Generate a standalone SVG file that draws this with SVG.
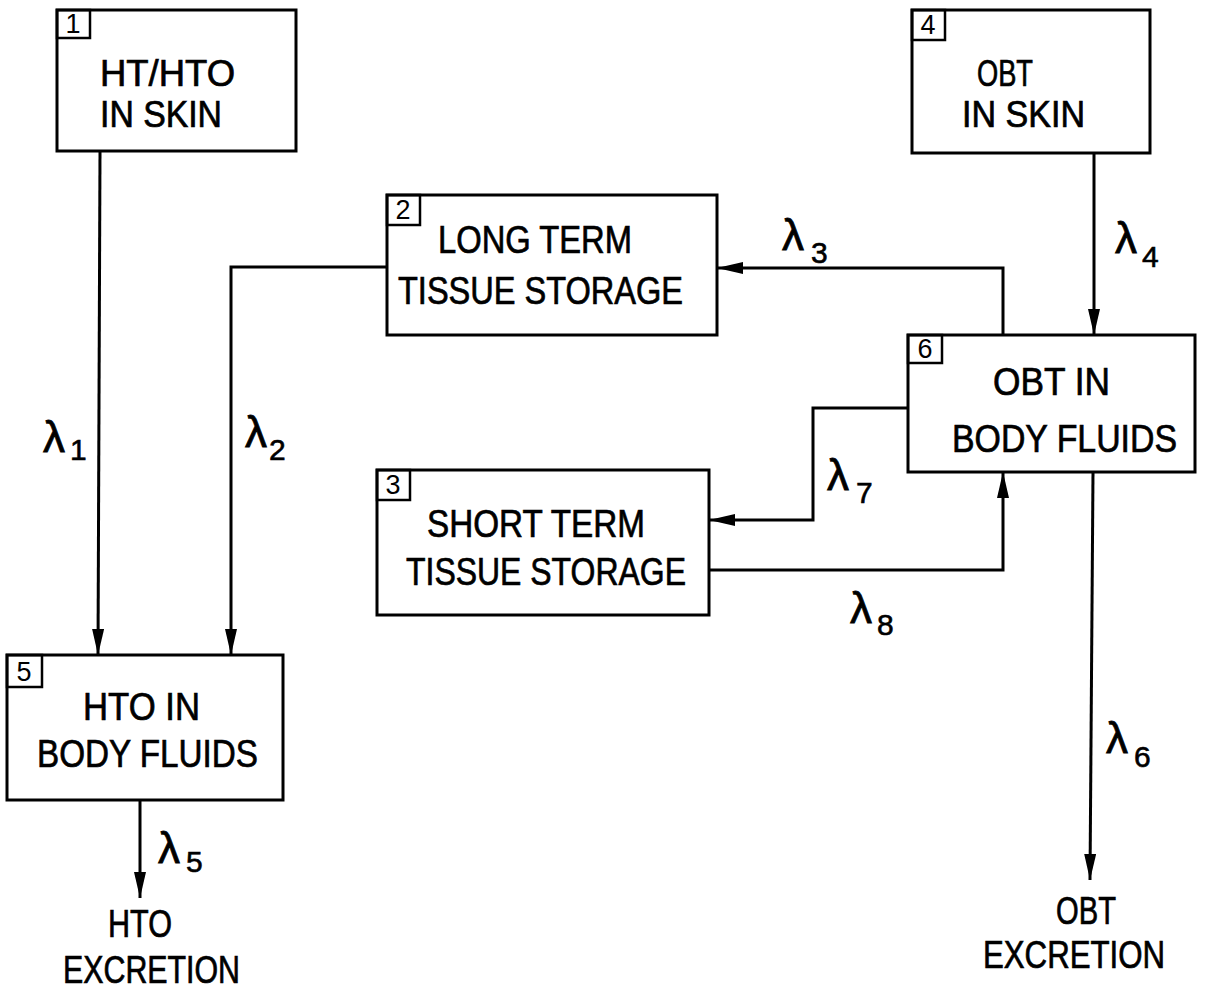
<svg xmlns="http://www.w3.org/2000/svg" width="1207" height="989" viewBox="0 0 1207 989">
<style>
.box{fill:#fff;stroke:#000;stroke-width:3}
.nb{fill:none;stroke:#000;stroke-width:2.5}
.t{font-family:"Liberation Sans",Arial,sans-serif;font-size:38px;fill:#000;stroke:#000;stroke-width:0.7}
.ts{font-size:36px}
.n{font-family:"Liberation Sans",Arial,sans-serif;font-size:27px;fill:#000;text-anchor:middle}
.l{font-family:"Liberation Sans",Arial,sans-serif;font-size:44px;fill:#000;stroke:#000;stroke-width:0.8}
.s{font-family:"Liberation Sans",Arial,sans-serif;font-size:30px;fill:#000;stroke:#000;stroke-width:0.6}
.c{fill:none;stroke:#000;stroke-width:3;marker-end:url(#ah)}
</style>
<defs>
<marker id="ah" markerUnits="userSpaceOnUse" markerWidth="28" markerHeight="12" refX="26" refY="6" orient="auto">
<path d="M0,0 L26,6 L0,12 Z" fill="#000"/>
</marker>
</defs>
<rect width="1207" height="989" fill="#fff"/>
<g id="connectors">
<path class="c" d="M100,152 L98,655"/>
<path class="c" d="M387,267 H231 V655"/>
<path class="c" d="M1003,335 V268 H717"/>
<path class="c" d="M1094,153 V335"/>
<path class="c" d="M908,408 H813 V520 H709"/>
<path class="c" d="M709,570 H1003 V472"/>
<path class="c" d="M1093,472 L1090,880"/>
<path class="c" d="M140,800 V898"/>
<text class="l" x="43" y="452">λ</text><text class="s" x="70" y="460">1</text>
<text class="l" x="245" y="447">λ</text><text class="s" x="269" y="460">2</text>
<text class="l" x="782" y="250">λ</text><text class="s" x="811" y="263">3</text>
<text class="l" x="1115" y="253">λ</text><text class="s" x="1142" y="267">4</text>
<text class="l" x="158" y="863">λ</text><text class="s" x="186" y="872">5</text>
<text class="l" x="1106" y="753">λ</text><text class="s" x="1134" y="767">6</text>
<text class="l" x="827" y="490">λ</text><text class="s" x="856" y="503">7</text>
<text class="l" x="850" y="623">λ</text><text class="s" x="877" y="635">8</text>
</g>
<g id="node1">
<rect class="box" x="57" y="10" width="239" height="141"/>
<rect class="nb" x="57" y="10" width="33" height="28"/>
<text class="n" x="73" y="33">1</text>
<text class="t ts" x="100" y="86" textLength="135" lengthAdjust="spacingAndGlyphs">HT/HTO</text>
<text class="t ts" x="100" y="127" textLength="122" lengthAdjust="spacingAndGlyphs">IN SKIN</text>
</g>
<g id="node2">
<rect class="box" x="387" y="195" width="330" height="140"/>
<rect class="nb" x="387" y="195" width="33" height="30"/>
<text class="n" x="403" y="219">2</text>
<text class="t" x="438" y="253" textLength="194" lengthAdjust="spacingAndGlyphs">LONG TERM</text>
<text class="t" x="398" y="304" textLength="285" lengthAdjust="spacingAndGlyphs">TISSUE STORAGE</text>
</g>
<g id="node3">
<rect class="box" x="377" y="470" width="332" height="145"/>
<rect class="nb" x="377" y="470" width="33" height="30"/>
<text class="n" x="393" y="494">3</text>
<text class="t" x="427" y="537" textLength="218" lengthAdjust="spacingAndGlyphs">SHORT TERM</text>
<text class="t" x="406" y="585" textLength="280" lengthAdjust="spacingAndGlyphs">TISSUE STORAGE</text>
</g>
<g id="node4">
<rect class="box" x="912" y="10" width="238" height="143"/>
<rect class="nb" x="912" y="10" width="33" height="30"/>
<text class="n" x="928" y="34">4</text>
<text class="t ts" x="977" y="86" textLength="56" lengthAdjust="spacingAndGlyphs">OBT</text>
<text class="t ts" x="962" y="127" textLength="123" lengthAdjust="spacingAndGlyphs">IN SKIN</text>
</g>
<g id="node5">
<rect class="box" x="7" y="655" width="276" height="145"/>
<rect class="nb" x="7" y="655" width="35" height="32"/>
<text class="n" x="24" y="681">5</text>
<text class="t" x="83" y="720" textLength="117" lengthAdjust="spacingAndGlyphs">HTO IN</text>
<text class="t" x="37" y="767" textLength="221" lengthAdjust="spacingAndGlyphs">BODY FLUIDS</text>
</g>
<g id="node6">
<rect class="box" x="908" y="335" width="287" height="137"/>
<rect class="nb" x="908" y="335" width="34" height="28"/>
<text class="n" x="925" y="358">6</text>
<text class="t" x="993" y="395" textLength="117" lengthAdjust="spacingAndGlyphs">OBT IN</text>
<text class="t" x="952" y="452" textLength="225" lengthAdjust="spacingAndGlyphs">BODY FLUIDS</text>
</g>
<g id="hto-excretion">
<text class="t" x="108" y="937" textLength="64" lengthAdjust="spacingAndGlyphs">HTO</text>
<text class="t" x="63" y="983" textLength="177" lengthAdjust="spacingAndGlyphs">EXCRETION</text>
</g>
<g id="obt-excretion">
<text class="t" x="1056" y="924" textLength="60" lengthAdjust="spacingAndGlyphs">OBT</text>
<text class="t" x="983" y="968" textLength="182" lengthAdjust="spacingAndGlyphs">EXCRETION</text>
</g>
</svg>
